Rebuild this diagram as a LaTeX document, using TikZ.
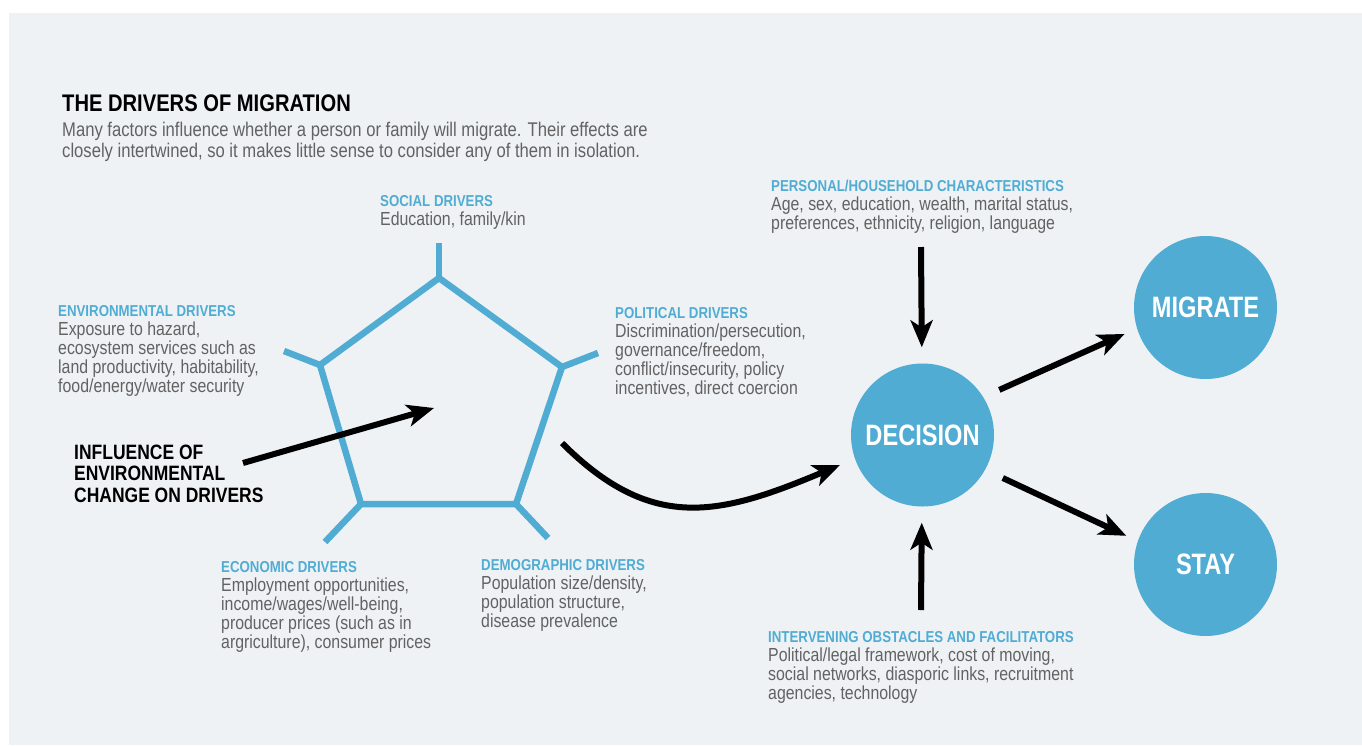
\documentclass[tikz,border=0pt]{standalone}
\usepackage{fontspec}
\setmainfont{Liberation Sans}
\newfontfamily\txtfont[FakeStretch=0.84]{Liberation Sans}
\newfontfamily\circfont[FakeStretch=0.8]{Liberation Sans}
\usetikzlibrary{arrows.meta}
\definecolor{bgpanel}{HTML}{EEF2F5}
\definecolor{driverblue}{HTML}{51ACD4}
\definecolor{bodygray}{HTML}{626262}
\newcommand\drvhead[1]{{\color{driverblue}\bfseries\fontsize{15.8}{19}\selectfont #1}}

\begin{document}
\begin{tikzpicture}[x=1pt,y=-1pt,
  % blocks are placed by the baseline of their last line
  block/.style={anchor=base west, inner sep=0pt, align=left, text=bodygray,
    font=\txtfont\fontsize{18.9}{19}\selectfont},
  bigcircle/.style={circle, fill=driverblue, draw=none, minimum size=143pt,
    inner sep=0pt, text=white, font=\circfont\bfseries\fontsize{29.5}{30}\selectfont},
  frame/.style={draw=driverblue, line width=6.5pt},
  arr/.style={draw=black, line width=6pt,
    -{Stealth[length=27pt,width=22pt,inset=7pt]}}
]
\useasboundingbox (0,0) rectangle (1362,745);
\fill[bgpanel] (9,13) rectangle (1362,745);

% heading
\node[anchor=base west, inner sep=0pt,
  font=\txtfont\bfseries\fontsize{24}{25}\selectfont] (title) at (62,111)
  {THE DRIVERS OF MIGRATION};
\node[block, font=\txtfont\fontsize{19.8}{21.7}\selectfont] (intro) at (62,157.7)
  {Many factors influence whether a person or family will migrate. Their effects are\\
   closely intertwined, so it makes little sense to consider any of them in isolation.};

% pentagon of drivers
\coordinate (pt) at (439,278);
\coordinate (pul) at (320,365);
\coordinate (pur) at (562,367);
\coordinate (pll) at (361,504);
\coordinate (plr) at (516,504);
\coordinate (pc) at (434,408);
\draw[frame, line join=miter] (pt) -- (pur) -- (plr) -- (pll) -- (pul) -- cycle;
\draw[frame] (pt) -- (439,243);
\draw[frame] (pul) -- (284,351);
\draw[frame] (pur) -- (598,353);
\draw[frame] (pll) -- (325,542);
\draw[frame] (plr) -- (548,538);

% driver labels
\node[block] (social) at (380,225)
  {\drvhead{SOCIAL DRIVERS}\\Education, family/kin};
\node[block] (environmental) at (58,392)
  {\drvhead{ENVIRONMENTAL DRIVERS}\\Exposure to hazard,\\ecosystem services such as\\
   land productivity, habitability,\\food/energy/water security};
\node[block] (political) at (615,394)
  {\drvhead{POLITICAL DRIVERS}\\Discrimination/persecution,\\governance/freedom,\\
   conflict/insecurity, policy\\incentives, direct coercion};
\node[block] (economic) at (221,648)
  {\drvhead{ECONOMIC DRIVERS}\\Employment opportunities,\\income/wages/well-being,\\
   producer prices (such as in\\argriculture), consumer prices};
\node[block] (demographic) at (481,627)
  {\drvhead{DEMOGRAPHIC DRIVERS}\\Population size/density,\\population structure,\\
   disease prevalence};
\node[block] (personal) at (771,229)
  {\drvhead{PERSONAL/HOUSEHOLD CHARACTERISTICS}\\Age, sex, education, wealth, marital status,\\
   preferences, ethnicity, religion, language};
\node[block] (intervening) at (768,699)
  {\drvhead{INTERVENING OBSTACLES AND FACILITATORS}\\Political/legal framework, cost of moving,\\
   social networks, diasporic links, recruitment\\agencies, technology};

\node[block, text=black, font=\txtfont\bfseries\fontsize{20.8}{21.5}\selectfont]
  (influence) at (74,502) {INFLUENCE OF\\ENVIRONMENTAL\\CHANGE ON DRIVERS};

% outcome circles
\node[bigcircle] (decision) at (922.5,435) {DECISION};
\node[bigcircle] (migrate) at (1205.5,307.5) {MIGRATE};
\node[bigcircle] (stay) at (1205.5,564.5) {STAY};

% connectors
\coordinate (infstart) at (243,463);
\draw[arr] (infstart) -- (pc);

\coordinate (curvestart) at (562,443);
\coordinate (curveend) at (840,465);
\draw[arr] (curvestart) .. controls (652,533) and (720,515.4) .. (curveend);

\coordinate (persstart) at (921,247);
\draw[arr, shorten >=16pt] (persstart) -- (decision);
\coordinate (intstart) at (921,610);
\draw[arr, shorten >=16pt] (intstart) -- (decision);

\draw[arr, shorten <=17.5pt, shorten >=13.5pt] (decision.32) -- (migrate.197);
\draw[arr, shorten <=19.4pt, shorten >=12.6pt] (decision.-29) -- (stay.161);
\end{tikzpicture}
\end{document}
